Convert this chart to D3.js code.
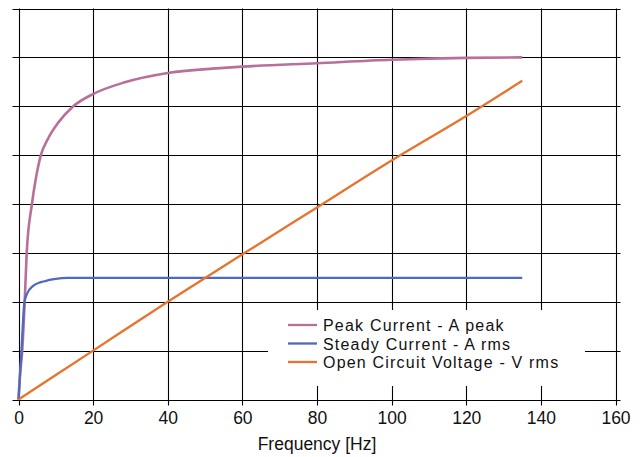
<!DOCTYPE html>
<html>
<head>
<meta charset="utf-8">
<script src="https://cdn.jsdelivr.net/npm/d3@7"></script>
<style>
  html, body { margin: 0; padding: 0; background: #fff; }
  svg { display: block; font-family: "Liberation Sans", Arial, Helvetica, sans-serif; }
</style>
</head>
<body>
<svg id="chart" width="643" height="457"></svg>
<script>
// ---- data ----
const xTicks = [0, 20, 40, 60, 80, 100, 120, 140, 160];
const yTicks = [0, 1, 2, 3, 4, 5, 6, 7, 8];
const xLabel = "Frequency [Hz]";
const seriesNames = ["Peak Current - A peak", "Steady Current - A rms", "Open Circuit Voltage - V rms"];
const seriesColors = ["#b8709a", "#5068bd", "#e8732c"];

const peakFreq = [0, 0.4, 1, 1.66, 2.2, 3.6, 4.6, 6, 8, 10.7, 14.7, 20, 28.5, 40, 54, 60, 80, 100, 120, 135];
const peakVals = [0, 0.5, 1, 2, 3, 4, 4.5, 5, 5.35, 5.67, 6, 6.25, 6.49, 6.68, 6.78, 6.81, 6.88, 6.95, 6.99, 7.0];

const steadyFreq = [0, 0.8, 1.6, 2.2, 4, 6, 8, 10, 13, 135];
const steadyVals = [0, 1, 2, 2.15, 2.33, 2.40, 2.44, 2.47, 2.49, 2.49];

const voltFreq = [0, 20, 40, 60, 80, 100, 120, 135];
const voltVals = [0, 1, 2, 2.97, 3.93, 4.89, 5.8, 6.52];

// ---- layout ----
const svg = d3.select("#chart");
const plotL = 18.5, plotR = 615.5, plotT = 8.5, plotB = 399.5;

const x = d3.scaleLinear().domain([0, 160]).range([plotL, plotR]);
const y = d3.scaleLinear().domain([0, 8]).range([plotB, plotT]);

// gridlines
const grid = svg.append("g").attr("stroke", "#000").attr("stroke-width", 1.1);
grid.selectAll("line.v").data(xTicks).join("line")
  .attr("x1", d => Math.round(x(d)) + 0.5).attr("x2", d => Math.round(x(d)) + 0.5)
  .attr("y1", plotT).attr("y2", plotB + 6);
grid.selectAll("line.h").data(yTicks).join("line")
  .attr("y1", d => Math.round(y(d)) + 0.5).attr("y2", d => Math.round(y(d)) + 0.5)
  .attr("x1", plotL - 6).attr("x2", plotR + 5);

// x axis labels
const xAxis = svg.append("g")
  .attr("transform", `translate(0,${plotB + 6})`)
  .call(d3.axisBottom(x).tickValues(xTicks).tickSize(0).tickPadding(6).tickFormat(d3.format("d")));
xAxis.select(".domain").remove();
xAxis.selectAll("text").attr("font-size", "17.5px").attr("fill", "#111")
  .attr("font-family", '"Liberation Sans", Arial, sans-serif');

svg.append("text")
  .attr("x", (plotL + plotR) / 2).attr("y", 450)
  .attr("text-anchor", "middle").attr("font-size", "17.5px").attr("fill", "#111")
  .text(xLabel);

// legend background
svg.append("rect").attr("x", 268).attr("y", 310).attr("width", 317).attr("height", 76).attr("fill", "#fff");

// lines
const line = d3.line().x(d => x(d[0])).y(d => y(d[1])).curve(d3.curveMonotoneX);
const series = [
  d3.zip(peakFreq, peakVals),
  d3.zip(steadyFreq, steadyVals),
  d3.zip(voltFreq, voltVals)
];
const widths = [2.6, 2.3, 2.3];
svg.append("g").selectAll("path").data(series).join("path")
  .attr("d", line).attr("fill", "none")
  .attr("stroke", (d, i) => seriesColors[i])
  .attr("stroke-width", (d, i) => widths[i]);

// legend
const lg = svg.append("g").attr("transform", "translate(288,325)");
const items = lg.selectAll("g").data(seriesNames).join("g")
  .attr("transform", (d, i) => `translate(0,${i * 18.5})`);
items.append("line").attr("x1", 0).attr("x2", 29).attr("y1", 0).attr("y2", 0)
  .attr("stroke", (d, i) => seriesColors[i]).attr("stroke-width", 2.3);
items.append("text").attr("x", 35).attr("y", 6).attr("font-size", "16px")
  .attr("letter-spacing", "1.2px").attr("fill", "#111")
  .text(d => d);
</script>
</body>
</html>
